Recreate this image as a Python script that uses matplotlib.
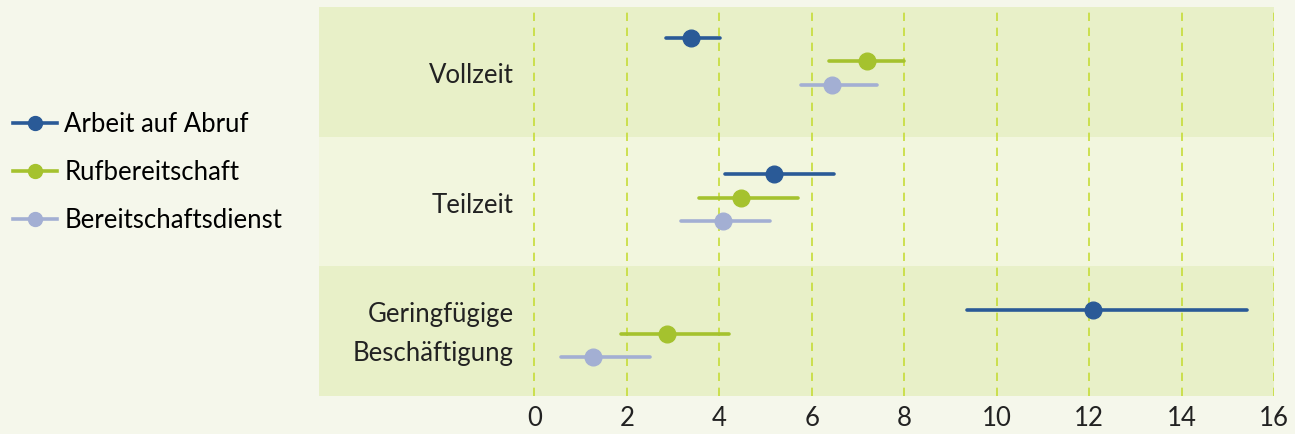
import matplotlib.pyplot as plt
from matplotlib.lines import Line2D

plt.rcParams['font.family'] = ['Lato', 'DejaVu Sans']

categories = ['Vollzeit', 'Teilzeit', 'Geringfügige\nBeschäftigung']
series = ['Arbeit auf Abruf', 'Rufbereitschaft', 'Bereitschaftsdienst']
colors = ['#2a5a97', '#a5c22e', '#a3afd3']

# point estimate and interval per series, one entry per category
points = [[3.39, 5.18, 12.09],
          [7.19, 4.47, 2.88],
          [6.45, 4.09, 1.28]]
lows = [[2.86, 4.12, 9.37],
        [6.37, 3.57, 1.87],
        [5.76, 3.17, 0.57]]
highs = [[4.01, 6.48, 15.42],
         [7.99, 5.70, 4.21],
         [7.41, 5.11, 2.50]]
xticks = [0, 2, 4, 6, 8, 10, 12, 14, 16]

fig = plt.figure(figsize=(12.95, 4.34), dpi=100)
fig.patch.set_facecolor('#f5f7eb')
ax = fig.add_axes([319 / 1295, 38 / 434, 955 / 1295, 389 / 434])
ax.set_facecolor('#f5f7eb')

band_colors = ['#e8f0c8', '#f2f6de', '#e8f0c8']
row_shift = [-0.08, -0.03, 0.02]
row_gap = 0.18
label_shift = [0.03, 0.03, 0.02]

for i, cat in enumerate(categories):
    ax.axhspan(i, i + 1, color=band_colors[i], zorder=0, lw=0)
    ax.text(-0.45, i + 0.5 + label_shift[i], cat, ha='right', va='center',
            fontsize=18.5, color='#222222', linespacing=1.7)
    for s in range(len(series)):
        y = i + 0.5 + row_shift[i] + (s - 1) * row_gap
        ax.plot([lows[s][i], highs[s][i]], [y, y], color=colors[s], lw=2.6,
                solid_capstyle='round', zorder=3)
        ax.plot(points[s][i], y, 'o', color=colors[s], ms=12, zorder=4)

ax.set_xlim(-4.655, 16)
ax.set_ylim(3, 0)
ax.set_xticks(xticks)
ax.set_xticklabels([str(t) for t in xticks], fontsize=18.5, color='#222222')
ax.set_yticks([])
ax.tick_params(axis='x', length=0, pad=7.5)
ax.grid(axis='x', color='#c6dc38', linestyle=(0, (5, 4)), lw=1.2)
for sp in ax.spines.values():
    sp.set_visible(False)

handles = [Line2D([0], [0], color=c, lw=2.6, marker='o', ms=10) for c in colors]
fig.legend(handles, series, loc='center left', bbox_to_anchor=(0.0, 0.603),
           frameon=False, fontsize=18.5, handlelength=1.7, handletextpad=0.3,
           labelspacing=0.9, borderaxespad=0.1)

fig.savefig('out.png', dpi=100, facecolor=fig.get_facecolor())
